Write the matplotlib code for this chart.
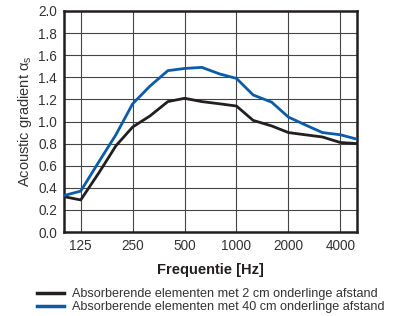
import numpy as np
import matplotlib.pyplot as plt
from matplotlib.lines import Line2D

# ── data (third-octave bands) ─────────────────────────────────────────────────
freqs = [100, 125, 160, 200, 250, 315, 400, 500, 630, 800,
         1000, 1250, 1600, 2000, 2500, 3150, 4000, 5000]
alpha_2cm = [0.32, 0.29, 0.54, 0.78, 0.95, 1.05, 1.18, 1.21, 1.18, 1.16,
             1.14, 1.01, 0.96, 0.90, 0.88, 0.86, 0.81, 0.80]
alpha_40cm = [0.33, 0.37, 0.64, 0.88, 1.16, 1.32, 1.46, 1.48, 1.49, 1.43,
              1.39, 1.24, 1.175, 1.04, 0.97, 0.90, 0.88, 0.84]
xticks = [125, 250, 500, 1000, 2000, 4000]
labels = ['Absorberende elementen met 2 cm onderlinge afstand',
          'Absorberende elementen met 40 cm onderlinge afstand']
colors = ['#231f20', '#0a5ca8']

plt.rcParams['font.family'] = ['Liberation Sans', 'DejaVu Sans']
plt.rcParams['mathtext.fontset'] = 'custom'
plt.rcParams['mathtext.it'] = 'Liberation Sans'
plt.rcParams['mathtext.rm'] = 'Liberation Sans'

fig = plt.figure(figsize=(3.98, 3.16), dpi=100)
ax = fig.add_axes([64/398, 1 - 232/316, 293/398, 221/316])

ax.plot(freqs, alpha_2cm, color=colors[0], lw=2.0, zorder=3)
ax.plot(freqs, alpha_40cm, color=colors[1], lw=2.0, zorder=3)

ax.set_xscale('log')
ax.set_xlim(100, 5000)
ax.set_ylim(0, 2.0)
ax.set_xticks(xticks)
ax.set_xticklabels([str(t) for t in xticks])
ax.minorticks_off()
ax.set_yticks(np.arange(0, 2.01, 0.2))
ax.set_yticklabels([f'{v:.1f}' for v in np.arange(0, 2.01, 0.2)])
ax.tick_params(length=0, labelsize=9.8, labelcolor='#333333', pad=5)
ax.grid(True, color='#444444', lw=0.8)
for s in ax.spines.values():
    s.set_linewidth(1.8)
    s.set_color('#231f20')

ax.set_ylabel(r'Acoustic gradient $\alpha_s$', fontsize=10.5, color='#333333', labelpad=3)
ax.set_xlabel('Frequentie [Hz]', fontsize=10.5, fontweight='bold', color='#231f20', labelpad=7)

handles = [Line2D([], [], color=c, lw=2.5) for c in colors]
fig.legend(handles, labels, loc='upper left', bbox_to_anchor=(31/398, 1 - 282/316),
           frameon=False, fontsize=9.1, handlelength=2.1, handletextpad=0.65,
           labelspacing=0.05, borderpad=0, labelcolor='#333333')

plt.savefig('out.png', dpi=100)
